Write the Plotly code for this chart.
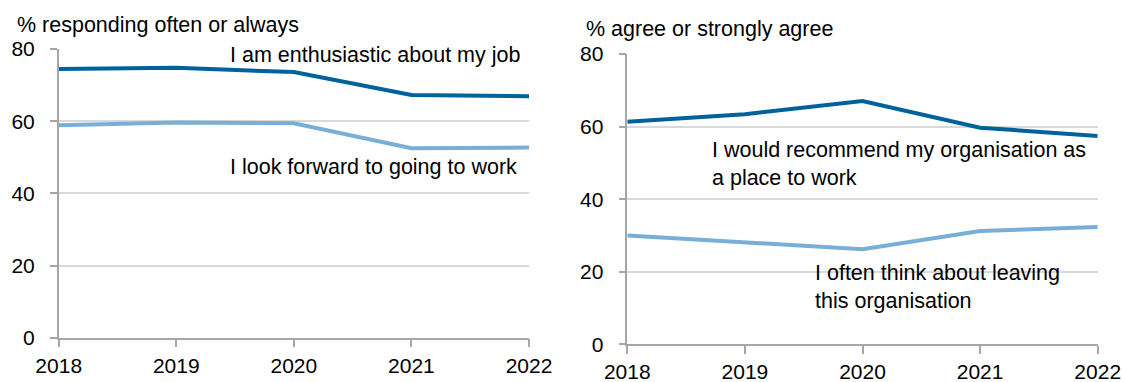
import plotly.graph_objects as go

years = [2018, 2019, 2020, 2021, 2022]
enthusiastic = [74.45, 74.8, 73.6, 67.25, 66.9]
look_forward = [58.85, 59.6, 59.4, 52.5, 52.7]
recommend = [61.3, 63.4, 67.05, 59.7, 57.4]
leaving = [30.0, 28.1, 26.2, 31.2, 32.3]
y_ticks = [0, 20, 40, 60, 80]

DARK = "#00629B"
LIGHT = "#79AED6"
FONT = "Liberation Sans, Arial, sans-serif"
W, H = 1123, 382

def px(x):
    return x / W

def py(y):
    return 1 - y / H

fig = go.Figure()
fig.add_trace(go.Scatter(x=years, y=enthusiastic, mode="lines", line=dict(color=DARK, width=4), xaxis="x", yaxis="y"))
fig.add_trace(go.Scatter(x=years, y=look_forward, mode="lines", line=dict(color=LIGHT, width=4), xaxis="x", yaxis="y"))
fig.add_trace(go.Scatter(x=years, y=recommend, mode="lines", line=dict(color=DARK, width=4), xaxis="x2", yaxis="y2"))
fig.add_trace(go.Scatter(x=years, y=leaving, mode="lines", line=dict(color=LIGHT, width=4), xaxis="x2", yaxis="y2"))

axis_common_x = dict(
    range=[2018, 2022], tickvals=years, ticktext=[str(y) for y in years],
    showgrid=False, showline=True, linecolor="#A6A6A6", linewidth=1.5,
    ticks="outside", ticklen=8, tickcolor="#A6A6A6", tickwidth=1.5,
    tickfont=dict(size=21, color="#000000", family=FONT), zeroline=False,
    automargin=False,
)
axis_common_y = dict(
    range=[0, 80], tickvals=y_ticks,
    showgrid=True, gridcolor="#D9D9D9", gridwidth=1.5,
    showline=True, linecolor="#A6A6A6", linewidth=1.5,
    ticks="outside", ticklen=7, tickcolor="#A6A6A6", tickwidth=1.5,
    ticklabelstandoff=11,
    tickfont=dict(size=21, color="#000000", family=FONT), zeroline=False,
    automargin=False,
)

fig.update_layout(
    width=W, height=H,
    margin=dict(l=0, r=0, t=0, b=0, autoexpand=False),
    paper_bgcolor="white", plot_bgcolor="white",
    showlegend=False,
    font=dict(family=FONT, size=21, color="#000000"),
    xaxis=dict(domain=[px(58.7), px(529)], anchor="y", **axis_common_x),
    yaxis=dict(domain=[py(337.7), py(49)], anchor="x", **axis_common_y),
    xaxis2=dict(domain=[px(627.3), px(1097.7)], anchor="y2", **axis_common_x),
    yaxis2=dict(domain=[py(344.3), py(54)], anchor="x2", **axis_common_y),
)

def label(text, x, y, size=21.5):
    fig.add_annotation(text=text, x=px(x), y=py(y), xref="paper", yref="paper",
                       xanchor="left", yanchor="middle", showarrow=False, align="left",
                       font=dict(size=size, family=FONT, color="#000000"))

label("% responding often or always", 15, 25)
label("% agree or strongly agree", 584, 29.5)
label("I am enthusiastic about my job", 228, 54.5)
label("I look forward to going to work", 228, 166.5)
label("I would recommend my organisation as<br>a place to work", 710, 164)
label("I often think about leaving<br>this organisation", 813, 287)

fig.write_html(
    "out.html",
    config={"displayModeBar": False},
    post_script="document.body.style.margin='0px';document.body.style.overflow='hidden';",
)
